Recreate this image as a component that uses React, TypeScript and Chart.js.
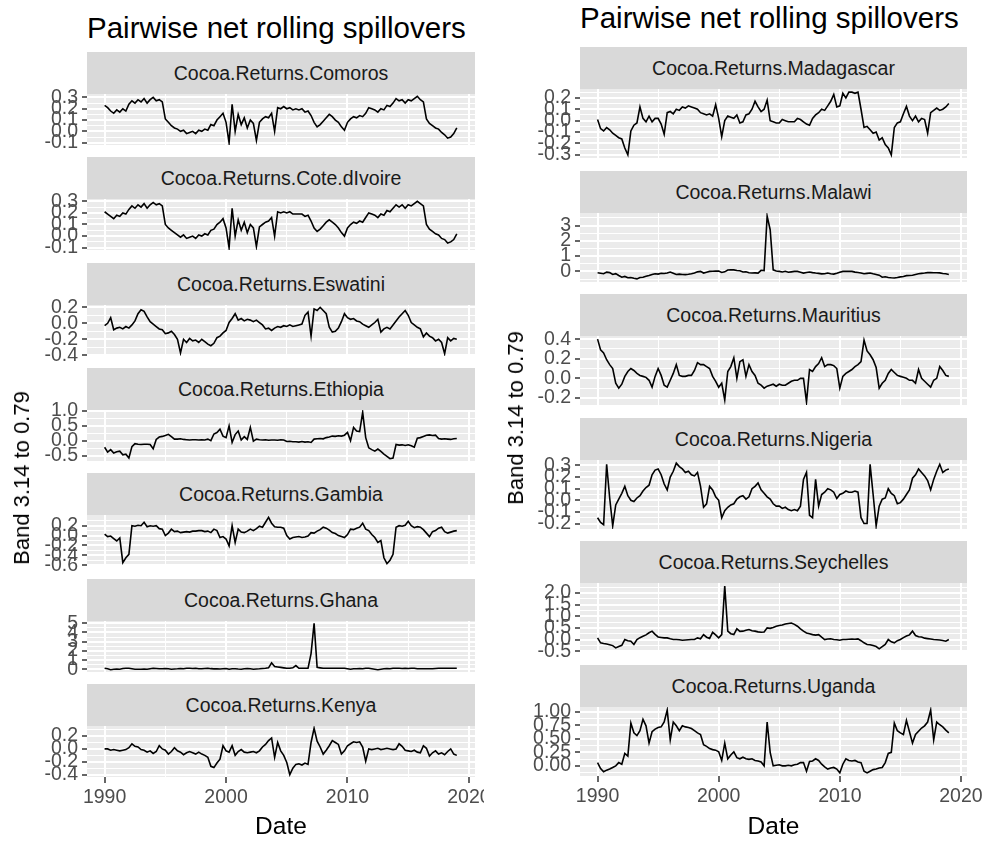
import React, { useEffect, useRef } from "react";
import { Chart, registerables } from "chart.js";

Chart.register(...registerables);

const FONT = '"Liberation Sans", Arial, Helvetica, sans-serif';

// Quarterly observations starting in 1990
const FIRST_YEAR = 1990;
const STEP_YEARS = 0.25;

const X_TICKS = [1990, 1995, 2000, 2005, 2010, 2015, 2020];
const X_LABELS = ["1990", "2000", "2010", "2020"];
const X_MIN = 1988.55;
const X_MAX = 2020.5;

const TITLE = "Pairwise net rolling spillovers";
const Y_TITLE = "Band 3.14 to 0.79";
const X_TITLE = "Date";

// ---------- left column series ----------
const comoros = [
  0.23, 0.21, 0.18, 0.16, 0.19, 0.17, 0.2, 0.18, 0.24, 0.27, 0.25, 0.28,
  0.26, 0.29, 0.25, 0.28, 0.3, 0.27, 0.28, 0.26, 0.11, 0.08, 0.05, 0.03,
  0.02, 0.0, 0.01, -0.02, -0.01, 0.0, -0.02, 0.01, 0.0, 0.02, 0.01, 0.06,
  0.05, 0.1, 0.13, 0.16, 0.08, -0.1, 0.24, 0.0, 0.15, 0.06, 0.12, 0.03,
  0.1, 0.07, -0.08, 0.08, 0.11, 0.13, 0.12, 0.16, 0.0, 0.21, 0.2, 0.22,
  0.2, 0.21, 0.19, 0.2, 0.19, 0.2, 0.17, 0.18, 0.14, 0.08, 0.04, 0.06,
  0.09, 0.12, 0.15, 0.13, 0.1, 0.08, 0.04, 0.01, 0.08, 0.11, 0.13, 0.12,
  0.14, 0.13, 0.16, 0.21, 0.2, 0.19, 0.17, 0.2, 0.19, 0.23, 0.22, 0.25,
  0.29, 0.27, 0.28, 0.25, 0.28, 0.27, 0.29, 0.31, 0.28, 0.26, 0.11, 0.07,
  0.05, 0.03, 0.02, -0.01, -0.03, -0.06, -0.05, -0.02, 0.03,
];
const coteDivoire = [
  0.21, 0.19, 0.17, 0.15, 0.18, 0.17, 0.2, 0.19, 0.23, 0.26, 0.24, 0.27,
  0.25, 0.28, 0.24, 0.27, 0.29, 0.27, 0.28, 0.26, 0.1, 0.07, 0.05, 0.03,
  0.01, -0.01, 0.01, -0.02, -0.01, 0.0, -0.02, 0.01, 0.0, 0.02, 0.01, 0.05,
  0.06, 0.1, 0.12, 0.15, 0.07, -0.1, 0.24, 0.0, 0.14, 0.05, 0.12, 0.03,
  0.1, 0.07, -0.09, 0.08, 0.1, 0.12, 0.13, 0.16, 0.0, 0.21, 0.2, 0.21,
  0.2, 0.21, 0.19, 0.19, 0.19, 0.19, 0.17, 0.18, 0.13, 0.07, 0.04, 0.06,
  0.09, 0.12, 0.14, 0.12, 0.1, 0.07, 0.03, 0.0, 0.07, 0.1, 0.12, 0.11,
  0.13, 0.12, 0.16, 0.2, 0.19, 0.18, 0.16, 0.19, 0.18, 0.22, 0.21, 0.24,
  0.27, 0.25, 0.27, 0.24, 0.27, 0.26, 0.28, 0.3, 0.28, 0.26, 0.1, 0.06,
  0.04, 0.02, 0.01, -0.02, -0.03, -0.06, -0.05, -0.03, 0.02,
];
const eswatini = [
  -0.03, 0.0, 0.07, -0.08, -0.06, -0.05, -0.07, -0.04, -0.06, -0.02, 0.03, 0.12,
  0.17, 0.15, 0.08, 0.02, -0.01, -0.04, -0.07, -0.08, -0.13, -0.12, -0.1, -0.14,
  -0.2, -0.37, -0.2, -0.24, -0.19, -0.22, -0.21, -0.24, -0.2, -0.23, -0.26, -0.28,
  -0.25, -0.18, -0.16, -0.12, -0.09, 0.01, 0.06, 0.12, 0.04, 0.06, 0.03, 0.05,
  0.04, 0.02, 0.04, 0.01, -0.02, -0.07, -0.06, -0.09, -0.06, -0.04, -0.05, -0.03,
  -0.04, -0.02, -0.04, -0.03, -0.02, -0.01, 0.1, 0.14, -0.16, 0.18, 0.16, 0.2,
  0.16, 0.12, -0.05, -0.11, -0.1, -0.06, 0.02, 0.12, 0.07, 0.05, 0.06, 0.03,
  0.02, -0.01, -0.03, -0.05, -0.02, 0.01, 0.05, -0.11, -0.07, -0.05, -0.07, -0.02,
  0.03, 0.08, 0.12, 0.16, 0.1, 0.01, -0.02, -0.05, -0.07, -0.17, -0.12, -0.16,
  -0.18, -0.22, -0.2, -0.24, -0.38, -0.18, -0.22, -0.19, -0.2,
];
const ethiopia = [
  -0.22, -0.38, -0.3, -0.41, -0.37, -0.35, -0.47, -0.45, -0.58, -0.2, -0.1, -0.12,
  -0.13, -0.12, -0.12, -0.13, -0.27, 0.04, 0.12, 0.14, 0.17, 0.21, 0.13, 0.05,
  0.05, 0.06, 0.04, 0.03, 0.02, 0.03, 0.03, 0.02, 0.03, 0.02, 0.05, 0.0,
  0.22, 0.27, 0.38, 0.15, 0.1, 0.49, -0.06, 0.2, 0.32, 0.02, 0.13, 0.04,
  0.44, -0.02, 0.05, 0.03, 0.02, 0.03, 0.01, 0.02, 0.02, 0.01, 0.03, 0.02,
  -0.03, -0.02, -0.04, -0.04, -0.05, -0.03, -0.05, -0.04, -0.06, 0.05, 0.06, 0.07,
  0.06, 0.1, 0.12, 0.15, 0.14, 0.16, 0.15, 0.18, 0.27, 0.0, 0.44, 0.32,
  0.3, 0.94, 0.1, -0.24, -0.3, -0.35, -0.28, -0.36, -0.45, -0.52, -0.6, -0.58,
  -0.13, -0.15, -0.14, -0.16, -0.14, -0.17, -0.22, 0.08, 0.1, 0.14, 0.18, 0.19,
  0.17, 0.18, 0.07, 0.05, 0.06, 0.05, 0.04, 0.06, 0.07,
];
const gambia = [
  0.03, -0.02, -0.01, -0.06, -0.11, -0.05, -0.55, -0.45, -0.38, 0.2, 0.19, 0.21,
  0.2, 0.27, 0.18, 0.2, 0.19, 0.2, 0.14, 0.13, 0.0, 0.05, 0.13, 0.08,
  0.09, 0.06, 0.07, 0.08, 0.07, 0.09, 0.09, 0.1, 0.1, 0.08, 0.09, 0.06,
  0.13, 0.1, -0.04, -0.02, -0.07, -0.21, 0.2, -0.14, 0.13, 0.07, 0.06, 0.09,
  0.13, 0.1, 0.14, 0.19, 0.17, 0.27, 0.37, 0.25, 0.18, 0.17, 0.17, 0.15,
  0.0, -0.07, -0.04, -0.03, -0.02, -0.04, -0.03, -0.01, 0.06, 0.05, 0.09, 0.12,
  0.17, 0.15, 0.11, 0.06, 0.04, 0.0, -0.02, -0.04, 0.02, 0.13, 0.12, 0.15,
  0.17, 0.25, 0.13, 0.1, 0.02, -0.04, -0.14, -0.1, -0.45, -0.57, -0.5, -0.38,
  0.17, 0.2, 0.19, 0.21, 0.29, 0.2, 0.16, 0.18, 0.17, 0.12, 0.05, -0.02,
  0.08, 0.1, 0.15, 0.17, 0.08, 0.05, 0.07, 0.09, 0.1,
];
const ghana = [
  0.1, 0.05, -0.05, 0.0, 0.02, 0.0, 0.08, 0.1, 0.1, 0.05, 0.0, 0.0,
  0.0, 0.03, 0.0, 0.05, 0.1, 0.08, 0.05, 0.05, 0.08, 0.05, 0.0, 0.03,
  0.05, 0.08, 0.05, 0.1, 0.1, 0.08, 0.1, 0.05, 0.05, 0.08, 0.1, 0.06,
  0.04, 0.05, 0.02, 0.05, 0.08, 0.0, 0.05, 0.05, 0.02, 0.0, 0.05, 0.08,
  0.05, 0.0, 0.03, 0.05, 0.08, 0.1, 0.15, 0.7, 0.3, 0.25, 0.2, 0.15,
  0.1, 0.1, 0.15, 0.4, 0.1, 0.1, 0.1, 0.1, 1.7, 5.0, 0.2, 0.15,
  0.1, 0.1, 0.1, 0.1, 0.1, 0.1, 0.1, 0.1, 0.05, 0.0, 0.05, 0.05,
  0.08, 0.05, 0.1, 0.1, 0.05, 0.0, -0.05, 0.0, 0.05, 0.08, 0.05, 0.1,
  0.1, 0.1, 0.08, 0.1, 0.08, 0.1, 0.1, 0.05, 0.05, 0.05, 0.05, 0.05,
  0.05, 0.08, 0.1, 0.1, 0.1, 0.1, 0.1, 0.1, 0.1,
];
const kenya = [
  0.0, 0.0, -0.02, -0.01, -0.02, -0.03, -0.02, -0.01, 0.02, 0.08, 0.04, 0.03,
  -0.01, -0.02, -0.05, -0.03, -0.07, -0.04, 0.05, 0.0, -0.02, -0.08, -0.04, 0.02,
  -0.03, -0.05, -0.09, -0.06, -0.04, -0.06, -0.08, -0.05, -0.08, -0.1, -0.13, -0.27,
  -0.29, -0.22, -0.16, 0.05, -0.03, -0.05, 0.05, -0.1, -0.04, -0.01, -0.05, -0.06,
  -0.05, -0.04, -0.06, -0.03, 0.03, 0.07, 0.13, 0.17, -0.13, 0.1, -0.03, -0.1,
  -0.21, -0.4, -0.3, -0.24, -0.23, -0.25, -0.22, -0.24, 0.1, 0.32, 0.12, 0.03,
  -0.08, -0.02, 0.05, 0.13, 0.1, 0.07, -0.08, -0.03, 0.05, 0.08, 0.11, 0.1,
  0.11, 0.03, -0.19, 0.0, -0.01, 0.0, 0.01, -0.01, 0.0, 0.01, 0.0, -0.01,
  0.0, 0.08, 0.04, -0.02, -0.03, -0.04, -0.02, -0.05, -0.06, 0.05, 0.01, -0.11,
  -0.06, -0.03, -0.08, -0.06, -0.09, -0.04, 0.0, -0.08, -0.1,
];

// ---------- right column series ----------
const madagascar = [
  0.01, -0.07, -0.09, -0.06, -0.08, -0.11, -0.13, -0.15, -0.16, -0.24, -0.3, -0.09,
  -0.04, -0.02, 0.12, 0.02, -0.01, 0.04, -0.01, 0.02, 0.02, -0.03, -0.12, 0.07,
  0.08, 0.06, 0.1, 0.09, 0.12, 0.11, 0.13, 0.12, 0.11, 0.1, 0.07, 0.06,
  0.05, 0.06, 0.04, 0.14, 0.02, -0.14, 0.0, 0.04, 0.03, 0.02, 0.05, -0.02,
  -0.01, 0.05, 0.06, 0.1, 0.17, 0.12, 0.08, 0.1, 0.18, 0.0, -0.01, -0.02,
  -0.02, 0.01, 0.0, -0.01, -0.01, -0.01, 0.02, 0.01, -0.01, -0.03, -0.04, 0.02,
  0.05, 0.07, 0.1, 0.09, 0.13, 0.17, 0.23, 0.12, 0.13, 0.24, 0.2, 0.25,
  0.25, 0.24, 0.25, 0.1, -0.06, -0.05, -0.08, -0.11, -0.1, -0.17, -0.15, -0.21,
  -0.24, -0.3, -0.06, -0.02, -0.01, 0.06, 0.125, 0.04, 0.0, 0.04, -0.01, 0.02,
  0.01, -0.11, 0.07, 0.09, 0.11, 0.09, 0.1, 0.12, 0.15,
];
const malawi = [
  -0.09, -0.12, -0.15, -0.05, -0.08, -0.2, -0.15, -0.27, -0.38, -0.33, -0.42, -0.4,
  -0.45, -0.49, -0.4, -0.38, -0.32, -0.27, -0.2, -0.16, -0.18, -0.12, -0.14, -0.1,
  -0.04, -0.12, -0.2, -0.18, -0.2, -0.21, -0.19, -0.16, -0.11, -0.03, 0.0, -0.11,
  -0.05, 0.0, 0.01, 0.02, 0.02, -0.07, -0.03, 0.09, 0.11, 0.1, 0.06, 0.04,
  -0.04, -0.02, -0.09, -0.11, -0.1, -0.11, 0.07, 0.05, 3.62, 2.73, 0.1, 0.02,
  0.0, -0.04, 0.01, -0.06, -0.03, 0.0, 0.0, -0.05, -0.11, -0.07, -0.04, -0.08,
  -0.11, -0.13, -0.16, -0.15, -0.11, -0.15, -0.18, -0.12, -0.05, 0.0, 0.01, 0.0,
  0.0, -0.05, -0.07, -0.11, -0.15, -0.13, -0.11, -0.16, -0.2, -0.25, -0.38, -0.35,
  -0.4, -0.42, -0.43, -0.4, -0.36, -0.33, -0.28, -0.27, -0.25, -0.2, -0.15, -0.13,
  -0.11, -0.08, -0.07, -0.09, -0.09, -0.1, -0.14, -0.16, -0.2,
];
const mauritius = [
  0.4, 0.29, 0.26, 0.19, 0.14, 0.1, -0.05, -0.1, -0.06, 0.02, 0.07, 0.1,
  0.08, 0.05, 0.03, 0.02, 0.01, -0.02, -0.09, 0.02, 0.1, 0.03, -0.07, -0.09,
  -0.02, 0.05, 0.14, 0.03, 0.02, 0.02, 0.03, 0.03, 0.08, 0.16, 0.14, 0.14,
  0.12, 0.1, 0.02, -0.03, -0.09, -0.05, -0.22, 0.07, 0.12, 0.21, 0.0, 0.17,
  0.19, 0.02, 0.14, 0.07, 0.03, -0.05, -0.07, -0.1, -0.08, -0.07, -0.06, -0.08,
  -0.06, -0.07, -0.07, -0.05, -0.03, -0.02, -0.02, 0.0, 0.0, -0.24, 0.09, 0.07,
  0.12, 0.15, 0.21, 0.12, 0.14, 0.14, 0.13, 0.1, -0.1, 0.02, 0.05, 0.07,
  0.09, 0.12, 0.14, 0.17, 0.39, 0.28, 0.24, 0.19, 0.11, -0.1, -0.05, -0.02,
  0.05, 0.09, 0.06, 0.03, 0.02, 0.01, 0.0, -0.02, -0.02, -0.05, 0.09, 0.0,
  -0.03, -0.06, -0.09, -0.02, 0.0, 0.12, 0.08, 0.03, 0.02,
];
const nigeria = [
  -0.15, -0.19, -0.21, 0.31, 0.02, -0.22, -0.04, 0.01, 0.06, 0.12, 0.04, 0.0,
  -0.01, 0.02, 0.04, 0.08, 0.11, 0.13, 0.22, 0.26, 0.27, 0.22, 0.14, 0.09,
  0.2, 0.25, 0.32, 0.29, 0.27, 0.24, 0.25, 0.22, 0.21, 0.24, 0.12, -0.06,
  -0.03, 0.12, 0.09, 0.03, 0.0, -0.15, -0.09, -0.06, -0.04, -0.03, 0.01, 0.03,
  0.04, 0.01, 0.03, 0.1, 0.12, 0.15, 0.09, 0.06, 0.03, 0.01, -0.03, -0.05,
  -0.05, -0.07, -0.06, -0.08, -0.09, -0.08, -0.09, -0.05, 0.18, 0.24, -0.13, -0.15,
  0.18, -0.05, 0.05, 0.07, 0.1, 0.09, 0.07, 0.015, 0.05, 0.06, 0.08, 0.07,
  0.07, 0.08, 0.07, -0.15, -0.2, -0.2, 0.31, 0.05, -0.22, -0.05, 0.01, 0.02,
  0.1, 0.06, 0.04, -0.03, -0.02, 0.01, 0.05, 0.09, 0.19, 0.22, 0.27, 0.24,
  0.21, 0.17, 0.09, 0.18, 0.25, 0.31, 0.24, 0.26, 0.27,
];
const seychelles = [
  0.07, -0.14, -0.17, -0.19, -0.22, -0.26, -0.36, -0.3, -0.25, 0.0, -0.05, -0.07,
  -0.21, 0.0, 0.08, 0.14, 0.2, 0.29, 0.36, 0.22, 0.11, 0.09, 0.07, 0.07,
  0.03, 0.0, 0.0, -0.01, -0.03, -0.02, -0.01, 0.0, 0.0, 0.07, 0.03, 0.21,
  0.1, 0.05, 0.31, 0.2, 0.07, 0.21, 2.29, 0.36, 0.25, 0.21, 0.46, 0.35,
  0.36, 0.4, 0.43, 0.38, 0.36, 0.33, 0.31, 0.32, 0.5, 0.48, 0.52, 0.57,
  0.6, 0.62, 0.67, 0.69, 0.71, 0.65, 0.57, 0.46, 0.36, 0.28, 0.25, 0.21,
  0.19, 0.21, 0.1, 0.0, 0.02, 0.03, 0.0, -0.01, -0.03, 0.0, 0.0, 0.01,
  0.02, 0.01, 0.03, -0.05, -0.14, -0.21, -0.22, -0.26, -0.3, -0.4, -0.3, -0.21,
  0.0, -0.1, -0.14, -0.05, 0.0, 0.08, 0.15, 0.2, 0.36, 0.17, 0.12, 0.11,
  0.06, 0.04, 0.02, 0.0, -0.01, -0.02, -0.04, -0.07, 0.0,
];
const uganda = [
  0.06, -0.05, -0.11, -0.08, -0.06, -0.03, 0.0, 0.06, 0.03, 0.23, 0.18, 0.79,
  0.61, 0.56, 0.65, 0.86, 0.74, 0.42, 0.63, 0.68, 0.71, 0.72, 0.81, 1.03,
  0.48, 0.81, 0.74, 0.65, 0.74, 0.72, 0.71, 0.69, 0.65, 0.61, 0.58, 0.39,
  0.36, 0.32, 0.3, 0.29, 0.26, 0.1, 0.42, 0.13, 0.2, 0.26, 0.15, 0.13,
  0.16, 0.13, 0.12, 0.13, 0.1, 0.09, 0.07, 0.0, 0.81, 0.25, 0.0, 0.01,
  0.02, 0.0, 0.0, 0.01, 0.0, 0.02, 0.03, 0.06, 0.06, -0.1, 0.08, 0.09,
  0.13, 0.1, 0.03, -0.02, -0.06, -0.04, -0.03, -0.06, -0.13, 0.03, 0.13, 0.1,
  0.09, 0.1, 0.07, 0.06, -0.1, -0.13, -0.1, -0.07, -0.06, -0.04, -0.03, 0.06,
  0.23, 0.25, 0.79, 0.65, 0.61, 0.58, 0.84, 0.63, 0.42, 0.58, 0.64, 0.7,
  0.74, 0.81, 1.03, 0.48, 0.81, 0.76, 0.72, 0.66, 0.61,
];

// ---------- y tick labels per facet ----------
const comorosTicks = ["-0.1", "0.0", "0.1", "0.2", "0.3"];
const coteTicks = ["-0.1", "0.0", "0.1", "0.2", "0.3"];
const eswatiniTicks = ["-0.4", "-0.2", "0.0", "0.2"];
const ethiopiaTicks = ["-0.5", "0.0", "0.5", "1.0"];
const gambiaTicks = ["-0.6", "-0.4", "-0.2", "0.0", "0.2"];
const ghanaTicks = ["0", "1", "2", "3", "4", "5"];
const kenyaTicks = ["-0.4", "-0.2", "0.0", "0.2"];
const madagascarTicks = ["-0.3", "-0.2", "-0.1", "0.0", "0.1", "0.2"];
const malawiTicks = ["0", "1", "2", "3"];
const mauritiusTicks = ["-0.2", "0.0", "0.2", "0.4"];
const nigeriaTicks = ["-0.2", "-0.1", "0.0", "0.1", "0.2", "0.3"];
const seychellesTicks = ["-0.5", "0.0", "0.5", "1.0", "1.5", "2.0"];
const ugandaTicks = ["0.00", "0.25", "0.50", "0.75", "1.00"];

const leftFacets = [
  { label: "Cocoa.Returns.Comoros", values: comoros, ticks: comorosTicks },
  { label: "Cocoa.Returns.Cote.dIvoire", values: coteDivoire, ticks: coteTicks },
  { label: "Cocoa.Returns.Eswatini", values: eswatini, ticks: eswatiniTicks },
  { label: "Cocoa.Returns.Ethiopia", values: ethiopia, ticks: ethiopiaTicks },
  { label: "Cocoa.Returns.Gambia", values: gambia, ticks: gambiaTicks },
  { label: "Cocoa.Returns.Ghana", values: ghana, ticks: ghanaTicks },
  { label: "Cocoa.Returns.Kenya", values: kenya, ticks: kenyaTicks },
];
const rightFacets = [
  { label: "Cocoa.Returns.Madagascar", values: madagascar, ticks: madagascarTicks },
  { label: "Cocoa.Returns.Malawi", values: malawi, ticks: malawiTicks },
  { label: "Cocoa.Returns.Mauritius", values: mauritius, ticks: mauritiusTicks },
  { label: "Cocoa.Returns.Nigeria", values: nigeria, ticks: nigeriaTicks },
  { label: "Cocoa.Returns.Seychelles", values: seychelles, ticks: seychellesTicks },
  { label: "Cocoa.Returns.Uganda", values: uganda, ticks: ugandaTicks },
];

// ---------- layout ----------
const STRIP_H = 42;
const MT = 12;
const MB = 12;
const XH = 44;
const TICK_FONT = 19.5;

const LEFT_COL = { plotLeft: 87, plotRight: 475, canvasLeft: 30, canvasRight: 484, firstTop: 94, pitch: 105.3, plotH: 51 };
const RIGHT_COL = { plotLeft: 580, plotRight: 967, canvasLeft: 520, canvasRight: 987, firstTop: 89, pitch: 123.6, plotH: 69 };

const panelBackground = {
  id: "panelBackground",
  beforeDraw(chart: any) {
    const { ctx, chartArea } = chart;
    ctx.save();
    ctx.fillStyle = "#EBEBEB";
    ctx.fillRect(chartArea.left, chartArea.top, chartArea.width, chartArea.height);
    ctx.restore();
  },
};

type PanelProps = {
  values: number[];
  ticks: string[];
  col: typeof LEFT_COL;
  top: number;
  showX: boolean;
};

function Panel({ values, ticks, col, top, showX }: PanelProps) {
  const ref = useRef<HTMLCanvasElement>(null);
  const cw = col.canvasRight - col.canvasLeft;
  const ch = MT + col.plotH + (showX ? XH : MB);
  const yw = col.plotLeft - col.canvasLeft;
  const mr = col.canvasRight - col.plotRight;

  useEffect(() => {
    if (!ref.current) return;
    const points = values.map((v, i) => ({ x: FIRST_YEAR + i * STEP_YEARS, y: v }));
    const lo = Math.min(...values);
    const hi = Math.max(...values);
    const pad = (hi - lo) * 0.05;
    const yMin = lo - pad;
    const yMax = hi + pad;
    const major = ticks.map((t) => parseFloat(t));
    const half = (major[1] - major[0]) / 2;
    const yTicks: { value: number; label: string; major: boolean }[] = [];
    for (let k = -1; k <= 2 * (major.length - 1) + 1; k++) {
      const v = major[0] + k * half;
      if (v < yMin || v > yMax) continue;
      const isMajor = k >= 0 && k % 2 === 0 && k / 2 < major.length;
      yTicks.push({ value: v, label: isMajor ? ticks[k / 2] : "", major: isMajor });
    }
    const findY = (v: number) => yTicks.find((t) => Math.abs(t.value - v) < 1e-9);
    const isMajorX = (v: number) => X_LABELS.includes(String(v));

    const chart = new Chart(ref.current, {
      type: "line",
      data: {
        datasets: [
          {
            data: points,
            borderColor: "#000000",
            borderWidth: 1.6,
            pointRadius: 0,
            tension: 0,
            fill: false,
          },
        ],
      },
      options: {
        animation: false,
        responsive: false,
        events: [],
        layout: { padding: { left: 0, right: mr, top: MT, bottom: showX ? 0 : MB } },
        plugins: { legend: { display: false }, tooltip: { enabled: false }, title: { display: false } },
        scales: {
          x: {
            type: "linear",
            min: X_MIN,
            max: X_MAX,
            afterBuildTicks: (s: any) => {
              s.ticks = X_TICKS.map((v) => ({ value: v }));
            },
            afterFit: (s: any) => {
              s.height = showX ? XH : 0;
              s.paddingLeft = 0;
              s.paddingRight = 0;
            },
            ticks: {
              display: showX,
              autoSkip: false,
              maxRotation: 0,
              minRotation: 0,
              padding: 3,
              color: "#4D4D4D",
              font: { family: FONT, size: TICK_FONT },
              callback: (v: any) => (isMajorX(Number(v)) ? String(v) : ""),
            },
            grid: {
              color: "#FFFFFF",
              lineWidth: (c: any) => (c.tick && isMajorX(c.tick.value) ? 2 : 1),
              drawTicks: showX,
              tickLength: 6,
              tickWidth: 1.5,
              tickColor: (c: any) => (c.tick && isMajorX(c.tick.value) ? "#333333" : "rgba(0,0,0,0)"),
            },
            border: { display: false },
          },
          y: {
            type: "linear",
            min: yMin,
            max: yMax,
            afterBuildTicks: (s: any) => {
              s.ticks = yTicks.map((t) => ({ value: t.value }));
            },
            afterFit: (s: any) => {
              s.width = yw;
              s.paddingTop = 0;
              s.paddingBottom = 0;
            },
            ticks: {
              autoSkip: false,
              padding: 4,
              color: "#4D4D4D",
              font: { family: FONT, size: TICK_FONT },
              callback: (v: any) => findY(Number(v))?.label ?? "",
            },
            grid: {
              color: "#FFFFFF",
              lineWidth: (c: any) => (c.tick && findY(c.tick.value)?.major ? 2 : 1),
              tickLength: 5,
              tickWidth: 1.5,
              tickColor: (c: any) => (c.tick && findY(c.tick.value)?.major ? "#333333" : "rgba(0,0,0,0)"),
            },
            border: { display: false },
          },
        },
      },
      plugins: [panelBackground],
    } as any);
    return () => chart.destroy();
  }, []);

  return (
    <canvas
      ref={ref}
      width={cw}
      height={ch}
      style={{ position: "absolute", left: col.canvasLeft, top: top - MT, width: cw, height: ch }}
    />
  );
}

function Column({ facets, col, titleTop, yTitleX, yTitleY, dateTop }: any) {
  const n = facets.length;
  const tops = facets.map((_: any, i: number) => Math.round(col.firstTop + i * col.pitch));
  const plotW = col.plotRight - col.plotLeft;
  return (
    <>
      <div
        style={{
          position: "absolute",
          left: col.plotLeft,
          top: titleTop,
          fontSize: 29.5,
          lineHeight: "34px",
          color: "#000",
          whiteSpace: "nowrap",
        }}
      >
        {TITLE}
      </div>
      {facets.map((f: any, i: number) => (
        <React.Fragment key={f.label}>
          <div
            style={{
              position: "absolute",
              left: col.plotLeft,
              top: tops[i] - STRIP_H,
              width: plotW,
              height: STRIP_H,
              background: "#D9D9D9",
              color: "#1A1A1A",
              fontSize: TICK_FONT,
              display: "flex",
              alignItems: "center",
              justifyContent: "center",
              whiteSpace: "nowrap",
            }}
          >
            {f.label}
          </div>
          <Panel values={f.values} ticks={f.ticks} col={col} top={tops[i]} showX={i === n - 1} />
        </React.Fragment>
      ))}
      <div
        style={{
          position: "absolute",
          left: yTitleX,
          top: yTitleY,
          transform: "translate(-50%, -50%) rotate(-90deg)",
          fontSize: 22,
          color: "#000",
          whiteSpace: "nowrap",
          lineHeight: "26px",
        }}
      >
        {Y_TITLE}
      </div>
      <div
        style={{
          position: "absolute",
          left: (col.plotLeft + col.plotRight) / 2,
          top: dateTop,
          transform: "translateX(-50%)",
          fontSize: 24.5,
          lineHeight: "28px",
          color: "#000",
          whiteSpace: "nowrap",
        }}
      >
        {X_TITLE}
      </div>
    </>
  );
}

export default function App() {
  return (
    <div
      style={{
        position: "fixed",
        left: 0,
        top: 0,
        width: 987,
        height: 844,
        background: "#FFFFFF",
        overflow: "hidden",
        fontFamily: FONT,
      }}
    >
      <Column facets={leftFacets} col={LEFT_COL} titleTop={11} yTitleX={22} yTitleY={478} dateTop={812} />
      <Column facets={rightFacets} col={RIGHT_COL} titleTop={1} yTitleX={516} yTitleY={418} dateTop={812} />
    </div>
  );
}
